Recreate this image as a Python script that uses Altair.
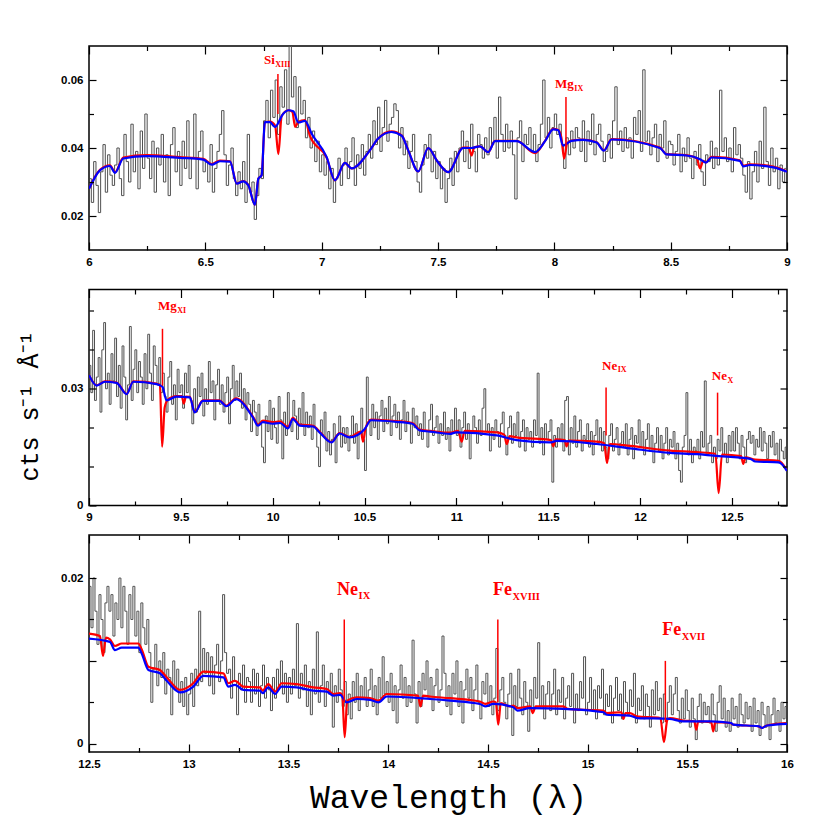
import altair as alt
import pandas as pd

# ---------------- spectrum (0.01 Å bins starting at 6.00 Å) ----------------
BIN0 = 6.0
BINW = 0.01

flux_p1 = [  # 6.00 - 8.99
    0.031, 0.024, 0.036, 0.029, 0.021, 0.033, 0.041, 0.027, 0.038, 0.032,
    0.029, 0.035, 0.040, 0.031, 0.026, 0.044, 0.036, 0.030, 0.047, 0.033,
    0.039, 0.028, 0.045, 0.034, 0.050, 0.037, 0.031, 0.042, 0.027, 0.040,
    0.035, 0.044, 0.030, 0.038, 0.026, 0.041, 0.046, 0.033, 0.039, 0.029,
    0.042, 0.034, 0.048, 0.031, 0.037, 0.050, 0.028, 0.039, 0.045, 0.033,
    0.036, 0.030, 0.041, 0.027, 0.034, 0.039, 0.044, 0.051, 0.038, 0.029,
    0.035, 0.040, 0.031, 0.026, 0.033, 0.028, 0.036, 0.024, 0.044, 0.027,
    0.030, 0.019, 0.026, 0.034, 0.031, 0.048, 0.054, 0.043, 0.057, 0.049,
    0.060, 0.044, 0.058, 0.052, 0.063, 0.047, 0.070, 0.055, 0.061, 0.046,
    0.058, 0.050, 0.054, 0.043, 0.049, 0.040, 0.045, 0.036, 0.042, 0.033,
    0.038, 0.032, 0.036, 0.028, 0.034, 0.024, 0.031, 0.037, 0.029, 0.035,
    0.040, 0.031, 0.036, 0.043, 0.029, 0.038, 0.034, 0.041, 0.032, 0.039,
    0.044, 0.037, 0.048, 0.041, 0.052, 0.039, 0.046, 0.054, 0.042, 0.047,
    0.049, 0.053, 0.051, 0.040, 0.046, 0.038, 0.042, 0.034, 0.039, 0.044,
    0.036, 0.030, 0.027, 0.035, 0.041, 0.037, 0.044, 0.033, 0.039, 0.031,
    0.036, 0.028, 0.034, 0.024, 0.031, 0.037, 0.029, 0.039, 0.033, 0.040,
    0.045, 0.036, 0.042, 0.034, 0.047, 0.039, 0.033, 0.044, 0.041, 0.037,
    0.043, 0.038, 0.046, 0.041, 0.049, 0.037, 0.055, 0.044, 0.039, 0.047,
    0.040, 0.045, 0.038, 0.025, 0.043, 0.048, 0.036, 0.044, 0.041, 0.046,
    0.039, 0.044, 0.036, 0.041, 0.047, 0.060, 0.043, 0.049, 0.040, 0.046,
    0.050, 0.044, 0.047, 0.041, 0.034, 0.043, 0.038, 0.045, 0.040, 0.046,
    0.043, 0.039, 0.048, 0.036, 0.045, 0.041, 0.050, 0.038, 0.044, 0.047,
    0.042, 0.036, 0.039, 0.044, 0.037, 0.048, 0.058, 0.041, 0.045, 0.039,
    0.046, 0.040, 0.043, 0.037, 0.049, 0.044, 0.051, 0.039, 0.063, 0.042,
    0.045, 0.038, 0.043, 0.047, 0.036, 0.044, 0.040, 0.048, 0.037, 0.042,
    0.041, 0.035, 0.039, 0.044, 0.033, 0.040, 0.036, 0.043, 0.037, 0.031,
    0.039, 0.035, 0.041, 0.033, 0.029, 0.038, 0.036, 0.042, 0.034, 0.040,
    0.035, 0.057, 0.039, 0.043, 0.036, 0.040, 0.033, 0.046, 0.038, 0.041,
    0.037, 0.032, 0.027, 0.036, 0.025, 0.033, 0.039, 0.030, 0.042, 0.034,
    0.052, 0.036, 0.029, 0.040, 0.033, 0.037, 0.028, 0.035, 0.030, 0.034,
]

flux_p2 = [  # 9.00 - 12.79
    0.036, 0.029, 0.045, 0.027, 0.033, 0.038, 0.024, 0.040, 0.047, 0.030,
    0.034, 0.026, 0.039, 0.032, 0.043, 0.028, 0.036, 0.025, 0.041, 0.033,
    0.022, 0.031, 0.046, 0.027, 0.035, 0.040, 0.029, 0.037, 0.033, 0.026,
    0.039, 0.030, 0.044, 0.034, 0.027, 0.041, 0.036, 0.031, 0.038, 0.029,
    0.034, 0.028, 0.024, 0.033, 0.037, 0.026, 0.031, 0.022, 0.035, 0.029,
    0.031, 0.025, 0.034, 0.029, 0.036, 0.027, 0.021, 0.030, 0.024, 0.033,
    0.028, 0.034, 0.023, 0.030, 0.026, 0.037, 0.029, 0.032, 0.022, 0.031,
    0.035, 0.026, 0.031, 0.024, 0.029, 0.033, 0.021, 0.030, 0.036, 0.027,
    0.032, 0.028, 0.034, 0.025, 0.030, 0.022, 0.029, 0.026, 0.019, 0.027,
    0.024, 0.018, 0.026, 0.021, 0.015, 0.011, 0.023, 0.019, 0.027, 0.017,
    0.025, 0.020, 0.016, 0.028, 0.022, 0.012, 0.024, 0.018, 0.029, 0.021,
    0.019, 0.027, 0.023, 0.017, 0.025, 0.021, 0.029, 0.018, 0.024, 0.020,
    0.023, 0.017, 0.026, 0.020, 0.015, 0.010, 0.022, 0.018, 0.024, 0.014,
    0.019, 0.013, 0.017, 0.021, 0.011, 0.018, 0.023, 0.015, 0.020, 0.016,
    0.020, 0.014, 0.018, 0.023, 0.016, 0.021, 0.012, 0.019, 0.025, 0.017,
    0.009, 0.033, 0.022, 0.018, 0.026, 0.020, 0.024, 0.017, 0.023, 0.027,
    0.019, 0.025, 0.021, 0.028, 0.018, 0.023, 0.026, 0.020, 0.024, 0.017,
    0.022, 0.027, 0.019, 0.024, 0.021, 0.016, 0.025, 0.020, 0.023, 0.018,
    0.021, 0.017, 0.024, 0.019, 0.015, 0.022, 0.026, 0.018, 0.020, 0.023,
    0.016, 0.021, 0.018, 0.024, 0.017, 0.020, 0.014, 0.022, 0.019, 0.025,
    0.018, 0.022, 0.015, 0.020, 0.024, 0.017, 0.021, 0.012, 0.019, 0.023,
    0.020, 0.016, 0.022, 0.018, 0.025, 0.030, 0.019, 0.021, 0.014, 0.020,
    0.017, 0.022, 0.019, 0.015, 0.021, 0.024, 0.018, 0.013, 0.020, 0.023,
    0.016, 0.021, 0.018, 0.024, 0.015, 0.019, 0.022, 0.014, 0.020, 0.017,
    0.019, 0.015, 0.022, 0.018, 0.034, 0.016, 0.020, 0.013, 0.021, 0.017,
    0.019, 0.022, 0.006, 0.018, 0.015, 0.020, 0.017, 0.021, 0.014, 0.027,
    0.028, 0.013, 0.020, 0.016, 0.023, 0.015, 0.019, 0.022, 0.014, 0.018,
    0.017, 0.021, 0.015, 0.019, 0.013, 0.018, 0.022, 0.016, 0.020, 0.014,
    0.019, 0.015, 0.012, 0.018, 0.021, 0.014, 0.017, 0.020, 0.013, 0.016,
    0.019, 0.015, 0.021, 0.013, 0.017, 0.020, 0.012, 0.018, 0.016, 0.022,
    0.015, 0.019, 0.013, 0.017, 0.021, 0.014, 0.018, 0.011, 0.016, 0.020,
    0.014, 0.018, 0.012, 0.016, 0.020, 0.013, 0.017, 0.015, 0.019, 0.012,
    0.016, 0.009, 0.006, 0.015, 0.018, 0.029, 0.013, 0.017, 0.011, 0.015,
    0.014, 0.017, 0.012, 0.019, 0.015, 0.032, 0.013, 0.016, 0.018, 0.011,
    0.015, 0.012, 0.017, 0.014, 0.020, 0.013, 0.016, 0.011, 0.018, 0.014,
    0.019, 0.014, 0.020, 0.016, 0.012, 0.018, 0.015, 0.011, 0.017, 0.019,
    0.016, 0.018, 0.013, 0.017, 0.015, 0.020, 0.014, 0.019, 0.016, 0.012,
    0.018, 0.015, 0.019, 0.013, 0.016, 0.011, 0.017, 0.014, 0.012, 0.015,
]

flux_p3 = [  # 12.80 - 15.99
    0.011, 0.005, 0.009, 0.012, 0.007, 0.010, 0.008, 0.011, 0.006, 0.009,
    0.008, 0.0035, 0.010, 0.0065, 0.009, 0.005, 0.0075, 0.0045, 0.008, 0.0035,
    0.006, 0.0085, 0.0045, 0.009, 0.007, 0.016, 0.0075, 0.0115, 0.0085, 0.011,
    0.007, 0.0105, 0.006, 0.0095, 0.012, 0.0075, 0.010, 0.018, 0.011, 0.0085,
    0.009, 0.0055, 0.0105, 0.0075, 0.0035, 0.0085, 0.0065, 0.0095, 0.005, 0.008,
    0.0075, 0.005, 0.009, 0.006, 0.0085, 0.0045, 0.007, 0.0095, 0.0055, 0.008,
    0.0065, 0.004, 0.008, 0.0055, 0.009, 0.007, 0.010, 0.006, 0.0085, 0.005,
    0.008, 0.006, 0.009, 0.007, 0.0145, 0.0055, 0.0085, 0.0065, 0.0095, 0.0045,
    0.0075, 0.0035, 0.009, 0.006, 0.0135, 0.005, 0.007, 0.0095, 0.0045, 0.0075,
    0.006, 0.0085, 0.002, 0.007, 0.005, 0.009, 0.0065, 0.0045, 0.0075, 0.0035,
    0.006, 0.003, 0.0075, 0.005, 0.0085, 0.004, 0.007, 0.0055, 0.008, 0.0045,
    0.0065, 0.009, 0.0045, 0.007, 0.0035, 0.008, 0.0055, 0.0105, 0.006, 0.0075,
    0.005, 0.0085, 0.004, 0.007, 0.0025, 0.0065, 0.0095, 0.0055, 0.008, 0.0045,
    0.007, 0.005, 0.0125, 0.006, 0.0025, 0.0075, 0.0045, 0.0085, 0.0065, 0.010,
    0.0055, 0.008, 0.004, 0.007, 0.009, 0.005, 0.0065, 0.013, 0.0085, 0.0045,
    0.007, 0.0035, 0.0085, 0.006, 0.010, 0.0045, 0.0075, 0.0025, 0.0065, 0.009,
    0.0055, 0.008, 0.004, 0.0065, 0.0095, 0.005, 0.003, 0.0075, 0.006, 0.0085,
    0.0045, 0.007, 0.0035, 0.0055, 0.0115, 0.004, 0.0065, 0.008, 0.005, 0.003,
    0.006, 0.0085, 0.001, 0.007, 0.0045, 0.009, 0.0055, 0.0035, 0.0075, 0.005,
    0.0015, 0.0065, 0.004, 0.008, 0.0055, 0.0122, 0.0045, 0.007, 0.003, 0.006,
    0.0075, 0.004, 0.006, 0.009, 0.0035, 0.0065, 0.005, 0.008, 0.003, 0.0055,
    0.007, 0.0045, 0.0085, 0.0025, 0.006, 0.004, 0.0075, 0.0055, 0.0105, 0.0035,
    0.005, 0.008, 0.004, 0.0065, 0.003, 0.007, 0.0055, 0.009, 0.0035, 0.006,
    0.0045, 0.007, 0.0025, 0.0055, 0.008, 0.004, 0.006, 0.003, 0.0075, 0.005,
    0.0035, 0.0065, 0.0045, 0.0085, 0.0025, 0.0055, 0.004, 0.007, 0.003, 0.006,
    0.0045, 0.002, 0.0065, 0.0035, 0.0075, 0.004, 0.0055, 0.0025, 0.006, 0.003,
    0.005, 0.007, 0.0035, 0.006, 0.008, 0.004, 0.0025, 0.0055, 0.003, 0.0065,
    0.004, 0.002, 0.0055, 0.003, 0.0005, 0.0045, 0.006, 0.0025, 0.005, 0.0035,
    0.0045, 0.0025, 0.006, 0.0035, 0.0015, 0.005, 0.007, 0.003, 0.0055, 0.002,
    0.004, 0.0015, 0.0055, 0.003, 0.0045, 0.002, 0.006, 0.0035, 0.0025, 0.005,
    0.003, 0.0045, 0.0015, 0.0055, 0.0025, 0.004, 0.001, 0.005, 0.0035, 0.002,
    0.0045, 0.0005, 0.0035, 0.0055, 0.0025, 0.004, 0.0015, 0.005, 0.003, 0.0045,
]

# ---------------- models (wavelength, flux) ----------------
blue_p1 = [(6.000, 0.0280), (6.047, 0.0334), (6.090, 0.0347), (6.112, 0.0327), (6.147, 0.0369),
           (6.248, 0.0376), (6.391, 0.0371), (6.491, 0.0366), (6.527, 0.0351), (6.563, 0.0361),
           (6.606, 0.0360), (6.635, 0.0295), (6.663, 0.0302), (6.685, 0.0290), (6.713, 0.0233),
           (6.728, 0.0310), (6.742, 0.0320), (6.756, 0.0476), (6.778, 0.0476), (6.799, 0.0462),
           (6.835, 0.0501), (6.857, 0.0511), (6.878, 0.0508), (6.900, 0.0475), (6.928, 0.0480),
           (6.957, 0.0442), (7.021, 0.0374), (7.057, 0.0305), (7.100, 0.0356), (7.129, 0.0340),
           (7.207, 0.0393), (7.243, 0.0428), (7.300, 0.0447), (7.344, 0.0436), (7.372, 0.0393),
           (7.415, 0.0331), (7.458, 0.0400), (7.494, 0.0364), (7.544, 0.0329), (7.608, 0.0400),
           (7.644, 0.0400), (7.680, 0.0405), (7.716, 0.0388), (7.745, 0.0420), (7.838, 0.0420),
           (7.917, 0.0388), (7.960, 0.0420), (7.995, 0.0455), (8.017, 0.0452), (8.038, 0.0407),
           (8.074, 0.0421), (8.124, 0.0424), (8.182, 0.0416), (8.213, 0.0392), (8.246, 0.0425),
           (8.454, 0.0400), (8.482, 0.0381), (8.568, 0.0378), (8.626, 0.0367), (8.651, 0.0357),
           (8.676, 0.0372), (8.797, 0.0362), (8.812, 0.0346), (8.840, 0.0350), (8.941, 0.0343),
           (9.000, 0.0330)]
red_p1 = [(6.000, 0.0280), (6.047, 0.0336), (6.090, 0.0349), (6.112, 0.0329), (6.147, 0.0372),
          (6.248, 0.0379), (6.391, 0.0373), (6.491, 0.0368), (6.527, 0.0353), (6.563, 0.0363),
          (6.606, 0.0361), (6.635, 0.0296), (6.663, 0.0303), (6.685, 0.0291), (6.713, 0.0233),
          (6.728, 0.0310), (6.742, 0.0320), (6.756, 0.0476), (6.778, 0.0478), (6.800, 0.0466),
          (6.814, 0.0382), (6.828, 0.0494), (6.857, 0.0511), (6.874, 0.0506), (6.886, 0.0462),
          (6.900, 0.0477), (6.928, 0.0482), (6.950, 0.0435), (7.021, 0.0372), (7.057, 0.0305),
          (7.100, 0.0356), (7.129, 0.0340), (7.207, 0.0393), (7.243, 0.0428), (7.300, 0.0449),
          (7.344, 0.0437), (7.372, 0.0393), (7.415, 0.0331), (7.458, 0.0400), (7.494, 0.0364),
          (7.544, 0.0329), (7.608, 0.0401), (7.632, 0.0401), (7.644, 0.0378), (7.656, 0.0402),
          (7.680, 0.0405), (7.716, 0.0388), (7.745, 0.0421), (7.838, 0.0421), (7.917, 0.0385),
          (7.960, 0.0421), (7.995, 0.0456), (8.017, 0.0453), (8.030, 0.0432), (8.042, 0.0369),
          (8.055, 0.0414), (8.074, 0.0422), (8.124, 0.0425), (8.182, 0.0417), (8.213, 0.0393),
          (8.246, 0.0426), (8.454, 0.0401), (8.482, 0.0382), (8.568, 0.0379), (8.612, 0.0370),
          (8.626, 0.0340), (8.640, 0.0362), (8.651, 0.0358), (8.676, 0.0374), (8.797, 0.0364),
          (8.812, 0.0348), (8.840, 0.0352), (8.941, 0.0345), (9.000, 0.0331)]

blue_p2 = [(9.000, 0.0335), (9.042, 0.0308), (9.087, 0.0318), (9.150, 0.0315), (9.205, 0.0286),
           (9.241, 0.0318), (9.368, 0.0312), (9.400, 0.0305), (9.422, 0.0270), (9.476, 0.0280),
           (9.549, 0.0278), (9.576, 0.0239), (9.620, 0.0269), (9.710, 0.0269), (9.748, 0.0255),
           (9.800, 0.0273), (9.893, 0.0226), (9.920, 0.0205), (9.947, 0.0214), (10.000, 0.0210),
           (10.040, 0.0212), (10.083, 0.0198), (10.110, 0.0222), (10.147, 0.0205), (10.220, 0.0203),
           (10.255, 0.0188), (10.320, 0.0162), (10.364, 0.0185), (10.418, 0.0175), (10.500, 0.0196),
           (10.536, 0.0219), (10.672, 0.0215), (10.760, 0.0210), (10.800, 0.0193), (10.856, 0.0190),
           (10.965, 0.0184), (11.000, 0.0188), (11.220, 0.0180), (11.328, 0.0168), (11.510, 0.0162),
           (11.547, 0.0166), (11.764, 0.0158), (11.946, 0.0147), (12.164, 0.0135), (12.310, 0.0132),
           (12.400, 0.0128), (12.600, 0.0120), (12.627, 0.0113), (12.755, 0.0111), (12.800, 0.0089)]
red_p2 = [(9.000, 0.0335), (9.042, 0.0309), (9.087, 0.0319), (9.150, 0.0316), (9.205, 0.0287),
          (9.241, 0.0319), (9.368, 0.0313), (9.386, 0.0310), (9.398, 0.0151), (9.412, 0.0252),
          (9.430, 0.0272), (9.476, 0.0281), (9.505, 0.0281), (9.516, 0.0262), (9.528, 0.0280),
          (9.549, 0.0279), (9.576, 0.0240), (9.620, 0.0270), (9.710, 0.0270), (9.748, 0.0257),
          (9.800, 0.0275), (9.893, 0.0228), (9.920, 0.0208), (9.947, 0.0218), (10.000, 0.0214),
          (10.040, 0.0216), (10.083, 0.0202), (10.110, 0.0225), (10.147, 0.0208), (10.220, 0.0205),
          (10.255, 0.0190), (10.320, 0.0163), (10.364, 0.0186), (10.418, 0.0176), (10.480, 0.0190),
          (10.492, 0.0164), (10.505, 0.0198), (10.536, 0.0221), (10.672, 0.0217), (10.760, 0.0212),
          (10.800, 0.0195), (10.856, 0.0192), (10.965, 0.0187), (11.010, 0.0192), (11.029, 0.0164),
          (11.045, 0.0192), (11.220, 0.0188), (11.260, 0.0182), (11.274, 0.0158), (11.290, 0.0178),
          (11.328, 0.0175), (11.515, 0.0168), (11.528, 0.0152), (11.540, 0.0170), (11.590, 0.0168),
          (11.600, 0.0152), (11.612, 0.0167), (11.764, 0.0164), (11.805, 0.0160), (11.820, 0.0109),
          (11.835, 0.0158), (11.946, 0.0153), (12.164, 0.0141), (12.310, 0.0137), (12.410, 0.0133),
          (12.428, 0.0032), (12.446, 0.0131), (12.550, 0.0127), (12.562, 0.0107), (12.575, 0.0124),
          (12.627, 0.0118), (12.755, 0.0115), (12.800, 0.0090)]

blue_p3 = [(12.500, 0.0127), (12.605, 0.0123), (12.630, 0.0113), (12.664, 0.0116), (12.747, 0.0116),
           (12.764, 0.0109), (12.798, 0.0089), (12.856, 0.0085), (12.890, 0.0076), (12.956, 0.0062),
           (13.023, 0.0069), (13.073, 0.0082), (13.174, 0.0080), (13.199, 0.0069), (13.232, 0.0071),
           (13.274, 0.0065), (13.357, 0.0064), (13.371, 0.0061), (13.399, 0.0068), (13.433, 0.0060),
           (13.466, 0.0069), (13.541, 0.0068), (13.625, 0.0064), (13.692, 0.0063), (13.725, 0.0058),
           (13.759, 0.0059), (13.792, 0.0050), (13.842, 0.0054), (13.909, 0.0053), (13.951, 0.0050),
           (13.993, 0.0057), (14.210, 0.0054), (14.310, 0.0052), (14.460, 0.0048), (14.486, 0.0045),
           (14.528, 0.0048), (14.628, 0.0044), (14.648, 0.0040), (14.710, 0.0043), (14.880, 0.0042),
           (15.080, 0.0038), (15.096, 0.0035), (15.210, 0.0034), (15.250, 0.0031), (15.410, 0.0030),
           (15.480, 0.0027), (15.620, 0.0027), (15.720, 0.0025), (15.730, 0.0023), (15.860, 0.0021),
           (15.875, 0.0019), (15.900, 0.0022), (16.000, 0.0024)]
red_p3 = [(12.500, 0.0133), (12.555, 0.0130), (12.570, 0.0106), (12.585, 0.0128), (12.605, 0.0126),
          (12.630, 0.0118), (12.664, 0.0121), (12.747, 0.0121), (12.764, 0.0114), (12.798, 0.0093),
          (12.856, 0.0089), (12.890, 0.0080), (12.956, 0.0065), (13.023, 0.0073), (13.073, 0.0087),
          (13.174, 0.0085), (13.199, 0.0073), (13.232, 0.0076), (13.274, 0.0069), (13.357, 0.0068),
          (13.371, 0.0064), (13.399, 0.0072), (13.433, 0.0063), (13.466, 0.0073), (13.541, 0.0072),
          (13.625, 0.0068), (13.692, 0.0066), (13.725, 0.0060), (13.759, 0.0061), (13.770, 0.0058),
          (13.782, 0.0008), (13.795, 0.0052), (13.842, 0.0056), (13.909, 0.0055), (13.951, 0.0052),
          (13.993, 0.0060), (14.150, 0.0058), (14.162, 0.0045), (14.175, 0.0058), (14.210, 0.0057),
          (14.310, 0.0055), (14.460, 0.0051), (14.486, 0.0048), (14.528, 0.0051), (14.540, 0.0050),
          (14.552, 0.0023), (14.565, 0.0049), (14.610, 0.0045), (14.628, 0.0046), (14.648, 0.0043),
          (14.712, 0.0045), (14.725, 0.0037), (14.740, 0.0045), (14.879, 0.0045), (14.900, 0.0042),
          (15.079, 0.0040), (15.096, 0.0037), (15.170, 0.0038), (15.180, 0.0030), (15.190, 0.0037),
          (15.213, 0.0037), (15.246, 0.0033), (15.365, 0.0031), (15.383, 0.0002), (15.400, 0.0029),
          (15.413, 0.0031), (15.480, 0.0028), (15.535, 0.0027), (15.545, 0.0017), (15.555, 0.0027),
          (15.620, 0.0026), (15.630, 0.0015), (15.640, 0.0026), (15.715, 0.0025), (15.731, 0.0023),
          (15.857, 0.0021), (15.873, 0.0019), (15.898, 0.0022), (15.995, 0.0025)]

# ---------------- line identifications ----------------
ion_panel = [0, 0, 1, 1, 1, 2, 2, 2]
ion_elem = ["Si", "Mg", "Mg", "Ne", "Ne", "Ne", "Fe", "Fe"]
ion_stage = ["XIII", "IX", "XI", "IX", "X", "IX", "XVIII", "XVII"]
ion_wl = [6.812, 8.050, 9.400, 11.815, 12.422, 13.780, 14.550, 15.390]
ion_top = [0.0618, 0.0550, 0.0454, 0.0303, 0.0290, 0.0150, 0.0150, 0.0100]
ion_bottom = [0.0500, 0.0397, 0.0308, 0.0180, 0.0180, 0.0050, 0.0050, 0.0026]
label_wl = [6.752, 8.003, 9.375, 11.793, 12.391, 13.744, 14.526, 15.374]
label_flux = [0.0659, 0.0588, 0.0513, 0.0359, 0.0333, 0.0186, 0.0185, 0.0137]

# ---------------- panel settings ----------------
W = 698
PANELS = [
    dict(x=(6.0, 9.0), y=(0.01, 0.07), h=204, ylab=[0.02, 0.04, 0.06], ymaj=[0.02, 0.04, 0.06],
         ymin=[0.03, 0.05], blue=blue_p1, red=red_p1, gap=31, fs=13, sfs=8),
    dict(x=(9.0, 12.8), y=(0.0, 0.0555), h=216, ylab=[0.0, 0.03], ymaj=[0.0, 0.03],
         ymin=[0.01, 0.02, 0.04, 0.05], blue=blue_p2, red=red_p2, gap=21, fs=13, sfs=8),
    dict(x=(12.5, 16.0), y=(-0.001, 0.0252), h=217, ylab=[0.0, 0.02], ymaj=[0.0, 0.01, 0.02],
         ymin=[0.005, 0.015], blue=blue_p3, red=red_p3, gap=None, fs=18, sfs=10.5),
]
CHAR_W = {"S": 0.556, "i": 0.278, "M": 0.944, "g": 0.5, "N": 0.722, "e": 0.444, "F": 0.611}

flux = flux_p1 + flux_p2 + flux_p3
spec = pd.DataFrame({"wl": [round(BIN0 + BINW * (i + 0.5), 4) for i in range(len(flux))],
                     "flux": flux})

LABEL_FONT = "Liberation Sans"
TITLE_FONT = "Liberation Mono"


def label_axis(orient, values, **kw):
    return alt.Axis(orient=orient, values=values, format="~g", ticks=False, tickSize=0,
                    domain=False, grid=False, labelPadding=6, labelFont=LABEL_FONT,
                    labelFontSize=11.5, labelFontWeight="bold", labelColor="black",
                    labelFlush=False, labelOverlap=False, **kw)


def tick_axis(orient, values, size):
    return alt.Axis(orient=orient, values=values, labels=False, domain=False, grid=False,
                    ticks=True, tickSize=size, offset=-size, tickColor="black",
                    tickWidth=1.2, title=None, zindex=1)


def make_panel(k):
    p = PANELS[k]
    x0, x1 = p["x"]
    y0, y1 = p["y"]
    h = p["h"]
    xs = alt.Scale(domain=[x0, x1], nice=False, zero=False)
    ys = alt.Scale(domain=[y0, y1], nice=False, zero=False)
    n_half = int(round((x1 - x0) / 0.5))
    xmaj = [x0 + 0.5 * i for i in range(n_half + 1) if x0 + 0.5 * i <= x1 + 1e-9]
    xmin = [x0 + 0.25 + 0.5 * i for i in range(n_half + 1) if x0 + 0.25 + 0.5 * i < x1]
    pxx = W / (x1 - x0)
    pxy = h / (y1 - y0)

    d = spec[(spec.wl > x0) & (spec.wl < x1)]
    blue = pd.DataFrame(p["blue"], columns=["wl", "flux"])
    red = pd.DataFrame(p["red"], columns=["wl", "flux"])

    idx = [i for i in range(len(ion_panel)) if ion_panel[i] == k]
    lines = pd.DataFrame({"wl": [ion_wl[i] for i in idx],
                          "top": [ion_top[i] for i in idx],
                          "bot": [ion_bottom[i] for i in idx]})
    rows = []
    for i in idx:
        wmain = sum(CHAR_W[c] for c in ion_elem[i]) * p["fs"]
        rows.append({"x": label_wl[i], "y": label_flux[i], "txt": ion_elem[i], "fs": p["fs"]})
        rows.append({"x": label_wl[i] + (wmain + 0.5) / pxx,
                     "y": label_flux[i] - 0.36 * p["fs"] / pxy,
                     "txt": ion_stage[i], "fs": p["sfs"]})
    labels = pd.DataFrame(rows)

    xlab_kw = {}
    ylab_kw = {}
    xtitle = None
    ytitle = None
    if k == 2:
        xtitle = "Wavelength (λ)"
        xlab_kw = dict(titleFont=TITLE_FONT, titleFontSize=33, titleFontWeight="normal",
                       titleColor="black", titleX=359, titleY=55, titleAlign="center",
                       titleBaseline="alphabetic", titleAngle=0)
    if k == 1:
        ytitle = "cts s⁻¹ Å⁻¹"
        ylab_kw = dict(titleFont=TITLE_FONT, titleFontSize=25, titleFontWeight="normal",
                       titleColor="black", titleX=-52, titleY=116, titleAlign="center",
                       titleBaseline="alphabetic", titleAngle=270)

    data_layer = alt.Chart(d).mark_line(interpolate="step", color="#505050", strokeWidth=1,
                                        clip=True).encode(
        x=alt.X("wl:Q", scale=xs, title=xtitle, axis=label_axis("bottom", xmaj, **xlab_kw)),
        y=alt.Y("flux:Q", scale=ys, title=ytitle, axis=label_axis("left", p["ylab"], **ylab_kw)),
    )
    red_layer = alt.Chart(red).mark_line(interpolate="monotone", color="#ff0000",
                                         strokeWidth=2.2, clip=True).encode(
        x=alt.X("wl:Q", scale=xs, axis=tick_axis("bottom", xmaj, 8)),
        y=alt.Y("flux:Q", scale=ys, axis=tick_axis("left", p["ymaj"], 7)),
    )
    blue_layer = alt.Chart(blue).mark_line(interpolate="monotone", color="#0000ff",
                                           strokeWidth=2.2, clip=True).encode(
        x=alt.X("wl:Q", scale=xs, axis=tick_axis("top", xmaj, 8)),
        y=alt.Y("flux:Q", scale=ys, axis=tick_axis("right", p["ymaj"], 7)),
    )
    rule_layer = alt.Chart(lines).mark_rule(color="#ff0000", strokeWidth=1.5).encode(
        x=alt.X("wl:Q", scale=xs, axis=tick_axis("bottom", xmin, 4.5)),
        y=alt.Y("top:Q", scale=ys, axis=tick_axis("left", p["ymin"], 4.5)),
        y2="bot:Q",
    )
    text_layer = alt.Chart(labels).mark_text(align="left", baseline="middle",
                                             font="Liberation Serif", fontWeight="bold",
                                             color="#ff0000").encode(
        x=alt.X("x:Q", scale=xs, axis=tick_axis("top", xmin, 4.5)),
        y=alt.Y("y:Q", scale=ys, axis=tick_axis("right", p["ymin"], 4.5)),
        text="txt:N",
        size=alt.Size("fs:Q", scale=None),
    )
    layers = [data_layer, red_layer, blue_layer, rule_layer, text_layer]
    if p["gap"] is not None:
        spacer = alt.Chart(alt.Data(values=[{}])).mark_rule(color="white", strokeWidth=1).encode(
            x=alt.value(0), x2=alt.value(2), y=alt.value(h + p["gap"]))
        layers.append(spacer)
    return alt.layer(*layers).resolve_axis(x="independent", y="independent").properties(
        width=W, height=h)


chart = alt.vconcat(make_panel(0), make_panel(1), make_panel(2), spacing=4.5).properties(
    padding={"left": 8, "top": 36, "right": 10, "bottom": 4},
    background="white",
).configure_view(stroke="black", strokeWidth=1.5)

chart.save("out.html", embed_options={"renderer": "svg", "actions": False})
